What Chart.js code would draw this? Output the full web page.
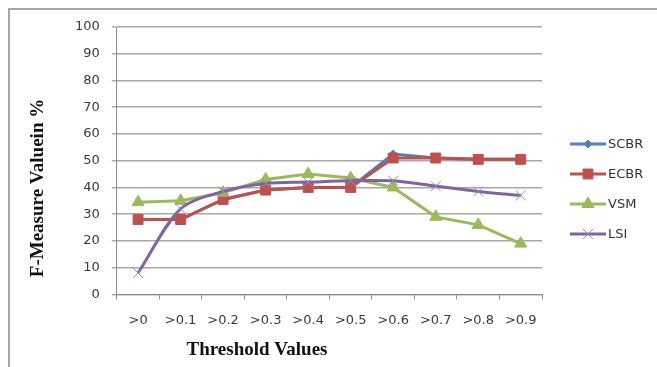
<!DOCTYPE html>
<html>
<head>
<meta charset="utf-8">
<script src="https://cdn.jsdelivr.net/npm/chart.js@4"></script>
<style>
  body { margin: 0; background: #fff; }
  #frame { position: absolute; left: 8px; top: 8px; width: 660px; height: 370px;
           border-left: 2px solid #a6a6a6; border-top: 2px solid #a6a6a6; }
  #wrap { position: absolute; left: 0; top: 0; width: 657px; height: 367px; }
</style>
</head>
<body>
<div id="frame"></div>
<div id="wrap"><canvas id="chart"></canvas></div>
<script>
const labels = ['>0', '>0.1', '>0.2', '>0.3', '>0.4', '>0.5', '>0.6', '>0.7', '>0.8', '>0.9'];
const scbr = [28, 28, 35.5, 39, 40, 40, 52.5, 51, 50.5, 50.5];
const ecbr = [28, 28, 35.5, 39, 40, 40, 51, 51, 50.5, 50.5];
const vsm = [34.5, 35, 38, 43, 45, 43.5, 40, 29, 26, 19];
const lsi = [8, 32, 38.5, 41.5, 42, 42.5, 42.5, 40.5, 38.5, 37];
const yTicks = [0, 10, 20, 30, 40, 50, 60, 70, 80, 90, 100];

// legend (line + marker) and the two axis titles, placed like the original
const extras = {
    id: 'extras',
    afterDraw(chart) {
        const ctx = chart.ctx;
        const x0 = 570, y0 = 144, gap = 30;
        chart.data.datasets.forEach((ds, i) => {
            const y = y0 + i * gap;
            ctx.save();
            ctx.strokeStyle = ds.borderColor;
            ctx.lineWidth = 3;
            ctx.beginPath();
            ctx.moveTo(x0, y);
            ctx.lineTo(x0 + 36, y);
            ctx.stroke();
            ctx.fillStyle = ds.pointBackgroundColor;
            ctx.strokeStyle = ds.pointBorderColor;
            ctx.lineWidth = ds.pointBorderWidth;
            Chart.helpers.drawPoint(ctx, {
                pointStyle: ds.pointStyle,
                radius: ds.pointRadius,
                borderWidth: ds.pointBorderWidth
            }, x0 + 18, y);
            ctx.fillStyle = '#333';
            ctx.font = '13px "DejaVu Sans"';
            ctx.textBaseline = 'middle';
            ctx.fillText(ds.label, x0 + 38, y + 1);
            ctx.restore();
        });

        ctx.save();
        ctx.fillStyle = '#111';
        ctx.font = 'bold 19px "Liberation Serif"';
        ctx.textAlign = 'center';
        ctx.textBaseline = 'middle';
        ctx.fillText('Threshold Values', 257, 350);
        ctx.translate(38, 188);
        ctx.rotate(-Math.PI / 2);
        ctx.fillText('F-Measure Valuein %', 0, 0);
        ctx.restore();
    }
};

function series(label, data, color, style, radius, order, extra) {
    return Object.assign({
        label: label,
        data: data,
        order: order,
        borderColor: color,
        backgroundColor: color,
        borderWidth: 3,
        pointStyle: style,
        pointRadius: radius,
        pointHoverRadius: radius,
        pointBackgroundColor: color,
        pointBorderColor: color,
        pointBorderWidth: 1,
        tension: 0
    }, extra || {});
}

new Chart(document.getElementById('chart'), {
    type: 'line',
    data: {
        labels: labels,
        datasets: [
            series('SCBR', scbr, '#4f81bd', 'rectRot', 4, 4),
            series('ECBR', ecbr, '#c0504d', 'rect', 7, 3),
            series('VSM', vsm, '#9bbb59', 'triangle', 7, 2),
            series('LSI', lsi, '#8064a2', 'crossRot', 7, 1, { tension: 0.3, pointBorderColor: '#9a86bb' })
        ]
    },
    options: {
        responsive: true,
        maintainAspectRatio: false,
        animation: false,
        layout: { padding: { left: 63, right: 115, top: 27, bottom: 26 } },
        plugins: {
            legend: { display: false },
            tooltip: { enabled: false }
        },
        scales: {
            x: {
                offset: true,
                grid: { drawOnChartArea: false, drawTicks: true, tickLength: 5, color: '#8c8c8c', offset: true },
                border: { color: '#8c8c8c', width: 1 },
                ticks: { color: '#3a3a3a', font: { family: 'DejaVu Sans', size: 13 }, padding: 13, maxRotation: 0, autoSkip: false }
            },
            y: {
                min: 0,
                max: 100,
                afterBuildTicks(scale) { scale.ticks = yTicks.map(v => ({ value: v })); },
                grid: { color: '#a8a8a8', lineWidth: 1.5, drawTicks: true, tickLength: 5 },
                border: { color: '#8c8c8c', width: 1 },
                ticks: { color: '#3a3a3a', font: { family: 'DejaVu Sans', size: 13 }, padding: 12 }
            }
        }
    },
    plugins: [extras]
});
</script>
</body>
</html>
